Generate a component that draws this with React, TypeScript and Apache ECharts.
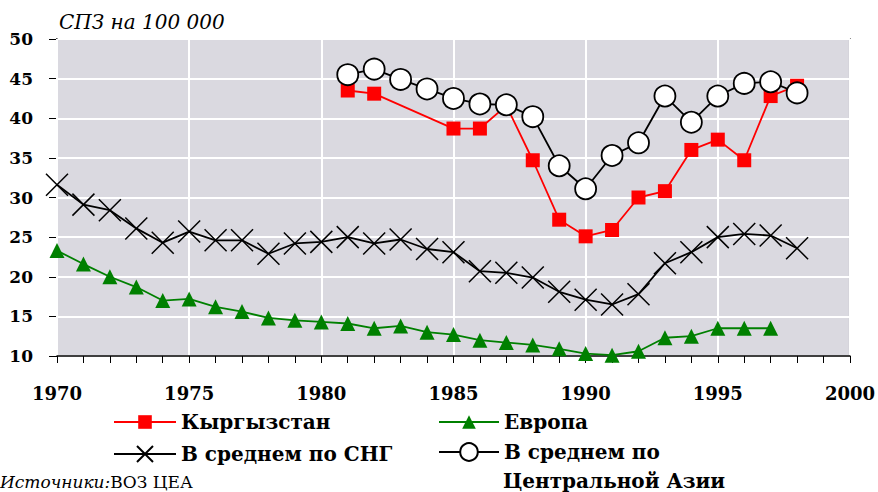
import React, { useEffect, useRef } from "react";
import * as echarts from "echarts";

const kgYears = [1981, 1982, 1985, 1986, 1987, 1988, 1989, 1990, 1991, 1992, 1993, 1994, 1995, 1996, 1997, 1998];
const kgValues = [43.5, 43.1, 38.7, 38.7, 41.6, 34.7, 27.2, 25.1, 25.9, 30.0, 30.8, 36.0, 37.3, 34.7, 42.8, 44.1];

const euYears = [1970, 1971, 1972, 1973, 1974, 1975, 1976, 1977, 1978, 1979, 1980, 1981, 1982, 1983, 1984, 1985, 1986, 1987, 1988, 1989, 1990, 1991, 1992, 1993, 1994, 1995, 1996, 1997];
const euValues = [23.3, 21.6, 20.0, 18.7, 17.0, 17.2, 16.2, 15.6, 14.8, 14.5, 14.3, 14.1, 13.5, 13.8, 13.0, 12.7, 12.0, 11.7, 11.4, 10.9, 10.3, 10.1, 10.6, 12.3, 12.5, 13.5, 13.5, 13.5];

const cisYears = [1970, 1971, 1972, 1973, 1974, 1975, 1976, 1977, 1978, 1979, 1980, 1981, 1982, 1983, 1984, 1985, 1986, 1987, 1988, 1989, 1990, 1991, 1992, 1993, 1994, 1995, 1996, 1997, 1998];
const cisValues = [31.6, 29.1, 28.4, 26.1, 24.3, 25.7, 24.6, 24.6, 22.9, 24.2, 24.4, 25.0, 24.2, 24.7, 23.5, 23.1, 20.7, 20.5, 19.9, 18.1, 17.1, 16.5, 17.8, 21.7, 23.1, 25.0, 25.4, 25.2, 23.6];

const caYears = [1981, 1982, 1983, 1984, 1985, 1986, 1987, 1988, 1989, 1990, 1991, 1992, 1993, 1994, 1995, 1996, 1997, 1998];
const caValues = [45.5, 46.2, 44.9, 43.7, 42.5, 41.8, 41.7, 40.2, 34.0, 31.1, 35.3, 36.9, 42.8, 39.5, 42.8, 44.4, 44.6, 43.2];

const seriesNames = ["Кыргызстан", "Европа", "В среднем по СНГ", "В среднем по Центральной Азии"];
const caNameLines = ["В среднем по", "Центральной Азии"];
const yTitle = "СПЗ на 100 000";

const pairs = (xs: number[], ys: number[]) => xs.map((x, i) => [x, ys[i]]);

const FONT = "DejaVu Serif";

export default function App() {
  const ref = useRef<HTMLDivElement>(null);
  useEffect(() => {
    document.body.style.margin = "0";
    if (!ref.current) return;
    const chart = echarts.init(ref.current, undefined, { renderer: "svg" });
    const legendText = { fontFamily: FONT, fontWeight: "bold", fontSize: 20, color: "#000" };
    chart.setOption({
      animation: false,
      backgroundColor: "#fff",
      grid: {
        left: 57,
        right: 25,
        top: 39,
        bottom: 136,
        show: true,
        backgroundColor: "#DAD9E0",
        borderColor: "#888",
        borderWidth: 2,
      },
      xAxis: {
        type: "value",
        min: 1970,
        max: 2000,
        interval: 5,
        z: 3,
        axisLine: { show: true, onZero: false, lineStyle: { color: "#000", width: 1.5 } },
        axisTick: { show: true, length: 7, lineStyle: { color: "#000", width: 1 } },
        minorTick: { show: true, splitNumber: 5, length: 7, lineStyle: { color: "#000", width: 1 } },
        splitLine: { show: true, lineStyle: { color: "#fff", width: 2 } },
        axisLabel: {
          margin: 28,
          fontFamily: FONT,
          fontWeight: "bold",
          fontSize: 18,
          color: "#000",
          formatter: (v: number) => String(v),
        },
      },
      yAxis: {
        type: "value",
        min: 10,
        max: 50,
        interval: 5,
        axisLine: { show: true, lineStyle: { color: "#000", width: 1.5 } },
        axisTick: { show: true, length: 8, lineStyle: { color: "#000", width: 1 } },
        splitLine: { show: true, lineStyle: { color: "#fff", width: 2 } },
        axisLabel: {
          margin: 24,
          fontFamily: FONT,
          fontWeight: "bold",
          fontSize: 17,
          color: "#000",
        },
      },
      legend: [
        {
          data: [seriesNames[0]],
          left: 113,
          top: 412,
          padding: 0,
          itemWidth: 62,
          itemHeight: 17,
          textStyle: legendText,
        },
        {
          data: [seriesNames[1]],
          left: 438,
          top: 412,
          padding: 0,
          itemWidth: 60,
          itemHeight: 17,
          textStyle: legendText,
        },
        {
          data: [seriesNames[2]],
          left: 113,
          top: 444,
          padding: 0,
          itemWidth: 62,
          itemHeight: 20,
          textStyle: legendText,
        },
        {
          data: [seriesNames[3]],
          left: 438,
          top: 442,
          padding: 0,
          itemWidth: 60,
          itemHeight: 22,
          formatter: () => caNameLines[0],
          textStyle: legendText,
        },
      ],
      graphic: [
        {
          type: "text",
          left: 59,
          top: 12,
          style: {
            text: yTitle,
            fontFamily: FONT,
            fontStyle: "italic",
            fontSize: 20,
            fill: "#000",
          },
        },
        {
          type: "text",
          left: 503,
          top: 471,
          style: {
            text: caNameLines[1],
            fontFamily: FONT,
            fontWeight: "bold",
            fontSize: 20,
            lineHeight: 20,
            fill: "#000",
          },
        },
        {
          type: "text",
          left: 0,
          top: 473,
          style: {
            text: "{i|Источники:}{n|ВОЗ ЦЕА}",
            fontFamily: FONT,
            fontSize: 17,
            rich: {
              i: { fontFamily: FONT, fontStyle: "italic", fontSize: 17, lineHeight: 18, fill: "#000" },
              n: { fontFamily: FONT, fontSize: 17, lineHeight: 18, fill: "#000" },
            },
          },
        },
      ],
      series: [
        {
          name: seriesNames[0],
          type: "line",
          data: pairs(kgYears, kgValues),
          symbol: "rect",
          symbolSize: 14,
          lineStyle: { color: "#FF0000", width: 1.8 },
          itemStyle: { color: "#FF0000" },
        },
        {
          name: seriesNames[1],
          type: "line",
          data: pairs(euYears, euValues),
          symbol: "triangle",
          symbolSize: 15,
          lineStyle: { color: "#008000", width: 1.8 },
          itemStyle: { color: "#008000" },
        },
        {
          name: seriesNames[2],
          type: "line",
          data: pairs(cisYears, cisValues),
          symbol: "path://M0,0L20,20M20,0L0,20",
          symbolSize: 22,
          lineStyle: { color: "#000", width: 1.8 },
          itemStyle: { color: "rgba(0,0,0,0)", borderColor: "#000", borderWidth: 1.5 },
        },
        {
          name: seriesNames[3],
          type: "line",
          data: pairs(caYears, caValues),
          symbol: "circle",
          symbolSize: 21,
          lineStyle: { color: "#000", width: 1.8 },
          itemStyle: { color: "#fff", borderColor: "#000", borderWidth: 1.8 },
        },
      ],
    });
    return () => chart.dispose();
  }, []);
  return <div ref={ref} style={{ width: 878, height: 492 }} />;
}
